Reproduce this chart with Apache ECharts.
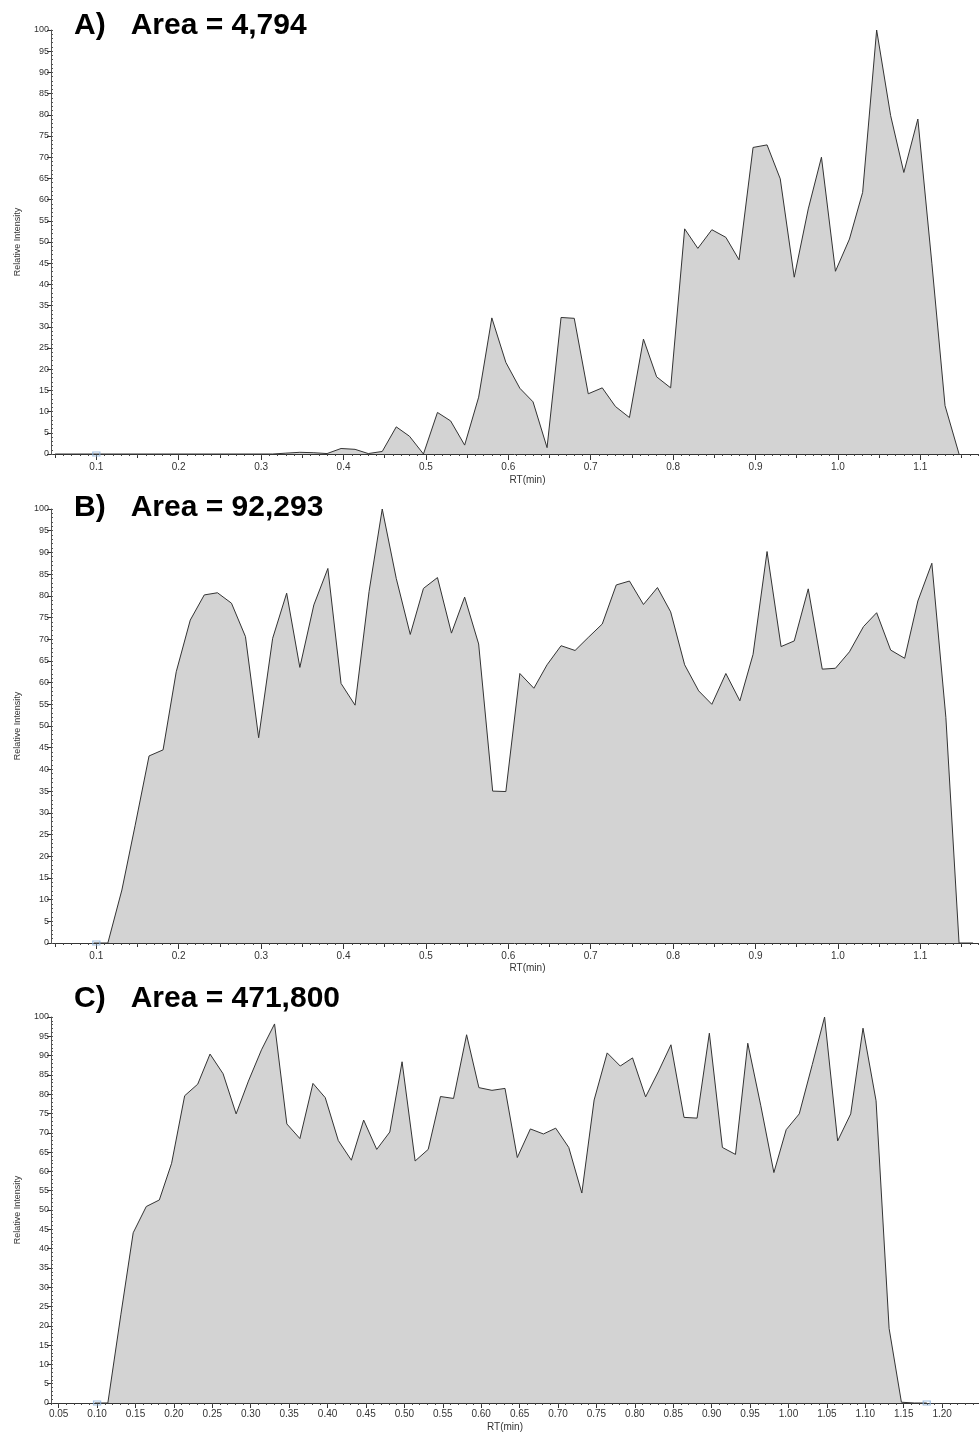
<!DOCTYPE html>
<html><head><meta charset="utf-8">
<script src="https://cdn.jsdelivr.net/npm/echarts/dist/echarts.min.js"></script>
<style>html,body{margin:0;padding:0;background:#fff}#c{width:979px;height:1433px}</style>
</head><body><div id="c"></div>
<script>
// ---- data ----
const panelTitles = ['A)   Area = 4,794', 'B)   Area = 92,293', 'C)   Area = 471,800'];

const rtA = [0.05, 0.314, 0.330, 0.347, 0.364, 0.380, 0.397, 0.414, 0.430, 0.447, 0.464, 0.480,
  0.497, 0.514, 0.530, 0.547, 0.564, 0.580, 0.597, 0.614, 0.630, 0.647,
  0.664, 0.680, 0.697, 0.714, 0.730, 0.747, 0.764, 0.780, 0.797, 0.814,
  0.830, 0.847, 0.864, 0.880, 0.897, 0.914, 0.930, 0.947, 0.964, 0.980,
  0.997, 1.014, 1.030, 1.047, 1.064, 1.080, 1.097, 1.114, 1.130, 1.147];
const intensityA = [0, 0, 0.2, 0.4, 0.3, 0.1, 1.3, 1.1, 0.1, 0.6, 6.4, 4.2,
  0, 9.8, 7.8, 2.1, 13.4, 32.1, 21.6, 15.5, 12.3, 1.5,
  32.2, 32.0, 14.2, 15.6, 11.2, 8.6, 27.1, 18.2, 15.6, 53.1,
  48.5, 52.9, 51.1, 45.8, 72.3, 72.9, 64.9, 41.7, 57.8, 70.0,
  43.1, 50.7, 61.7, 100, 79.8, 66.4, 79.0, 45, 11.4, 0];

const rtB = [0.097, 0.114, 0.131, 0.147, 0.164, 0.181, 0.197, 0.214, 0.231, 0.247, 0.264,
  0.281, 0.297, 0.314, 0.331, 0.347, 0.364, 0.381, 0.397, 0.414, 0.431,
  0.447, 0.464, 0.481, 0.497, 0.514, 0.531, 0.547, 0.564, 0.581, 0.597,
  0.614, 0.631, 0.647, 0.664, 0.681, 0.697, 0.714, 0.731, 0.747, 0.764,
  0.781, 0.797, 0.814, 0.831, 0.847, 0.864, 0.881, 0.897, 0.914, 0.931,
  0.947, 0.964, 0.981, 0.997, 1.014, 1.031, 1.047, 1.064, 1.081, 1.097,
  1.114, 1.131, 1.147, 1.164];
const intensityB = [0, 0, 12.2, 27, 43.1, 44.5, 62.5, 74.4, 80.2, 80.7, 78.3,
  70.6, 47.3, 70.2, 80.6, 63.5, 77.9, 86.3, 59.8, 54.8, 81,
  100, 84, 71.1, 81.7, 84.2, 71.4, 79.7, 68.9, 35.0, 34.9,
  62.1, 58.7, 64.1, 68.5, 67.4, 70.4, 73.5, 82.5, 83.4, 78.0,
  81.9, 76.3, 64.1, 58.1, 55.0, 62.1, 55.8, 66.5, 90.2, 68.3,
  69.6, 81.6, 63.1, 63.3, 67.1, 72.9, 76.1, 67.5, 65.6, 78.8,
  87.5, 52, 0, 0];

const rtC = [0.097, 0.114, 0.131, 0.147, 0.164, 0.181, 0.197, 0.214, 0.231, 0.247, 0.264,
  0.281, 0.297, 0.314, 0.331, 0.347, 0.364, 0.381, 0.397, 0.414, 0.431,
  0.447, 0.464, 0.481, 0.497, 0.514, 0.531, 0.547, 0.564, 0.581, 0.597,
  0.614, 0.631, 0.647, 0.664, 0.681, 0.697, 0.714, 0.731, 0.747, 0.764,
  0.781, 0.797, 0.814, 0.831, 0.847, 0.864, 0.881, 0.897, 0.914, 0.931,
  0.947, 0.964, 0.981, 0.997, 1.014, 1.031, 1.047, 1.064, 1.081, 1.097,
  1.114, 1.131, 1.147, 1.164, 1.180];
const intensityC = [0, 0, 23, 44.1, 50.9, 52.6, 62.1, 79.6, 82.6, 90.4, 85.3,
  74.9, 83.4, 91.5, 98.2, 72.3, 68.5, 82.8, 79.1, 68.0, 62.9,
  73.3, 65.7, 70.2, 88.4, 62.7, 65.7, 79.4, 78.9, 95.4, 81.7,
  81.0, 81.5, 63.6, 71.0, 69.7, 71.2, 66.2, 54.4, 78.5, 90.7,
  87.3, 89.4, 79.3, 86.0, 92.8, 74.0, 73.8, 95.8, 66.2, 64.4,
  93.2, 77.0, 59.7, 70.8, 74.9, 87.7, 100, 67.9, 74.9, 97.1,
  78.3, 19.3, 0.2, 0, 0];

const markersA = [[0.1, 0]];
const markersB = [[0.1, 0]];
const markersC = [[0.1, 0], [1.18, 0]];

const xTicksAB = [0.1, 0.2, 0.3, 0.4, 0.5, 0.6, 0.7, 0.8, 0.9, 1.0, 1.1];
const xTicksC = [0.05, 0.10, 0.15, 0.20, 0.25, 0.30, 0.35, 0.40, 0.45, 0.50, 0.55, 0.60,
  0.65, 0.70, 0.75, 0.80, 0.85, 0.90, 0.95, 1.00, 1.05, 1.10, 1.15, 1.20];

// ---- chart ----
const FONT = '"Liberation Sans", Arial, sans-serif';
const AX = '#333';
function seq(from, to, step) {
  const out = [];
  for (let v = from; v <= to + 1e-9; v += step) out.push(Math.round(v * 1000) / 1000);
  return out;
}

const panels = [
  { grid: {left: 51, right: 1, top: 30, height: 424}, min: 0.045, max: 1.17, rt: rtA, val: intensityA,
    labels: xTicksAB, dec: 1, mid: seq(0.05, 1.15, 0.1), minor: seq(0.05, 1.17, 0.01),
    titleTop: 11, namePad: [0, 0, 0, 26], nameGap: 21, markers: markersA, labelMargin: 8 },
  { grid: {left: 51, right: 1, top: 509, height: 434}, min: 0.045, max: 1.17, rt: rtB, val: intensityB,
    labels: xTicksAB, dec: 1, mid: seq(0.05, 1.15, 0.1), minor: seq(0.05, 1.17, 0.01),
    titleTop: 493, namePad: [0, 0, 0, 26], nameGap: 20, markers: markersB, labelMargin: 8 },
  { grid: {left: 51, right: 0, top: 1017, height: 390}, min: 0.04, max: 1.248, rt: rtC, val: intensityC,
    labels: xTicksC, dec: 2, mid: null, minor: seq(0.04, 1.24, 0.01),
    titleTop: 984, namePad: [0, 20, 0, 0], nameGap: 19, markers: markersC, labelMargin: 6 }
];

const option = {
  animation: false,
  backgroundColor: '#fff',
  title: [], grid: [], xAxis: [], yAxis: [], series: []
};

panels.forEach((p, i) => {
  option.title.push({
    text: panelTitles[i], left: 74, top: p.titleTop, padding: 0,
    textStyle: {fontFamily: FONT, fontSize: 30, fontWeight: 'bold', color: '#000'}
  });
  option.grid.push(p.grid);

  const xMain = option.xAxis.length;
  option.xAxis.push({
    gridIndex: i, type: 'value', min: p.min, max: p.max, position: 'bottom',
    axisLine: {show: true, onZero: false, lineStyle: {color: AX, width: 1}},
    axisTick: {show: true, length: p.dec === 1 ? 6 : 5, customValues: p.labels, lineStyle: {color: AX}},
    axisLabel: {customValues: p.labels, formatter: v => Number(v).toFixed(p.dec),
      fontSize: 10, color: '#333', fontFamily: FONT, margin: p.labelMargin},
    splitLine: {show: false},
    name: 'RT(min)', nameLocation: 'middle', nameGap: p.nameGap,
    nameTextStyle: {fontSize: 10, color: '#333', fontFamily: FONT, padding: p.namePad}
  });
  if (p.mid) {
    option.xAxis.push({
      gridIndex: i, type: 'value', min: p.min, max: p.max, position: 'bottom',
      axisLine: {show: false, onZero: false},
      axisTick: {show: true, length: 4, customValues: p.mid, lineStyle: {color: AX}},
      axisLabel: {show: false}, splitLine: {show: false}
    });
  }
  option.xAxis.push({
    gridIndex: i, type: 'value', min: p.min, max: p.max, position: 'bottom',
    axisLine: {show: false, onZero: false},
    axisTick: {show: true, length: 2, customValues: p.minor, lineStyle: {color: '#444'}},
    axisLabel: {show: false}, splitLine: {show: false}
  });

  const yMain = option.yAxis.length;
  option.yAxis.push({
    gridIndex: i, type: 'value', min: 0, max: 100, interval: 5, position: 'left',
    axisLine: {show: true, lineStyle: {color: '#555', width: 1}},
    axisTick: {show: true, length: 4, lineStyle: {color: AX}},
    axisLabel: {fontSize: 9, color: '#333', margin: 2, fontFamily: FONT},
    splitLine: {show: false},
    name: 'Relative Intensity', nameLocation: 'middle', nameGap: 29,
    nameTextStyle: {fontSize: 9, color: '#333', fontFamily: FONT}
  });
  option.yAxis.push({
    gridIndex: i, type: 'value', min: 0, max: 100, interval: 1, position: 'left',
    axisLine: {show: false},
    axisTick: {show: true, inside: true, length: 2, lineStyle: {color: '#555'}},
    axisLabel: {show: false}, splitLine: {show: false}
  });

  option.series.push({
    type: 'line', xAxisIndex: xMain, yAxisIndex: yMain,
    data: p.rt.map((t, k) => [t, p.val[k]]),
    symbol: 'none', smooth: false,
    lineStyle: {color: '#333', width: 1},
    areaStyle: {color: '#d3d3d3', opacity: 1},
    z: 2
  });
  option.series.push({
    type: 'scatter', xAxisIndex: xMain, yAxisIndex: yMain,
    data: p.markers, symbol: 'rect', symbolSize: [7, 4],
    itemStyle: {color: 'rgba(255,255,255,0)', borderColor: '#8fb2d8', borderWidth: 1},
    z: 3
  });
});

const chart = echarts.init(document.getElementById('c'), null, {renderer: 'canvas'});
chart.setOption(option);
</script>
</body></html>
